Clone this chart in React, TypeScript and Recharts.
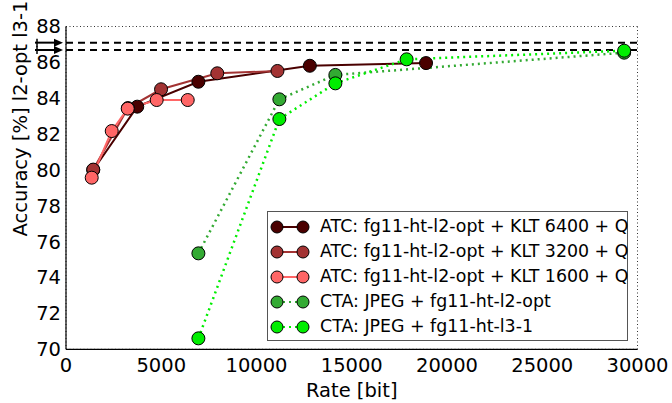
import { CartesianGrid, ComposedChart, Line, ReferenceLine, XAxis, YAxis } from "recharts"

// Rate [bit] vs accuracy [%]
const atc6400 = [
  { x: 1430, y: 80.0 },
  { x: 3740, y: 83.53 },
  { x: 6950, y: 84.92 },
  { x: 12800, y: 85.81 },
  { x: 18900, y: 85.96 },
]
const atc3200 = [
  { x: 1430, y: 80.02 },
  { x: 3250, y: 83.45 },
  { x: 4990, y: 84.5 },
  { x: 7940, y: 85.39 },
  { x: 11100, y: 85.52 },
]
const atc1600 = [
  { x: 1350, y: 79.57 },
  { x: 2400, y: 82.17 },
  { x: 3240, y: 83.42 },
  { x: 4760, y: 83.9 },
  { x: 6390, y: 83.9 },
]
const ctaL2 = [
  { x: 6950, y: 75.35 },
  { x: 11200, y: 83.94 },
  { x: 14140, y: 85.3 },
  { x: 29300, y: 86.54 },
]
const ctaL3 = [
  { x: 6950, y: 70.61 },
  { x: 11200, y: 82.84 },
  { x: 14140, y: 84.83 },
  { x: 17880, y: 86.17 },
  { x: 29300, y: 86.65 },
]

// uncompressed baselines (dashed lines)
const baselines = [87.1, 86.69]

const xTicks = [0, 5000, 10000, 15000, 20000, 25000, 30000]
const yTicks = [70, 72, 74, 76, 78, 80, 82, 84, 86, 88]

const series = [
  { name: "ATC: fg11-ht-l2-opt + KLT 6400 + Q", data: atc6400, color: "#4a0000", line: "#4a0000", dash: undefined },
  { name: "ATC: fg11-ht-l2-opt + KLT 3200 + Q", data: atc3200, color: "#a33333", line: "#a33333", dash: undefined },
  { name: "ATC: fg11-ht-l2-opt + KLT 1600 + Q", data: atc1600, color: "#ff6666", line: "#ff6666", dash: undefined },
  { name: "CTA: JPEG + fg11-ht-l2-opt", data: ctaL2, color: "#33aa33", line: "#33aa33", dash: "2 4" },
  { name: "CTA: JPEG + fg11-ht-l3-1", data: ctaL3, color: "#00ee00", line: "#00ee00", dash: "2 4" },
]

const FONT = "'DejaVu Sans', sans-serif"

function Arrow({ viewBox }: any) {
  if (!viewBox) return null
  const x0 = viewBox.x - 31
  const x1 = viewBox.x - 3
  const y = viewBox.y
  return (
    <g>
      <line x1={x0} y1={y} x2={x1 - 6} y2={y} stroke="#000" strokeWidth={2} />
      <line x1={x0 + 2} y1={y - 4} x2={x0 + 2} y2={y + 4} stroke="#000" strokeWidth={1.5} />
      <polygon points={`${x1},${y} ${x1 - 9},${y - 4} ${x1 - 9},${y + 4}`} fill="#000" />
    </g>
  )
}

function YLabel({ viewBox }: any) {
  if (!viewBox) return null
  const x = 20
  const y = viewBox.y + 92
  return (
    <text
      x={x}
      y={y}
      transform={`rotate(-90, ${x}, ${y})`}
      textAnchor="middle"
      dominantBaseline="central"
      fontSize={19.5}
      fontFamily={FONT}
      fill="#000"
    >
      Accuracy [%] l2-opt l3-1
    </text>
  )
}

function LegendBox() {
  return (
    <div
      style={{
        position: "absolute",
        left: 267,
        top: 211,
        border: "1px solid #555",
        background: "#fff",
        width: 359,
        height: 126,
        fontFamily: FONT,
        fontSize: 17.4,
        paddingTop: 2,
      }}
    >
      {series.map((s) => (
        <div key={s.name} style={{ display: "flex", alignItems: "center", height: 25.1 }}>
          <svg width={52} height={18} style={{ flex: "none" }}>
            <line x1={9} y1={9} x2={35} y2={9} stroke={s.line} strokeWidth={2} strokeDasharray={s.dash} />
            <circle cx={9} cy={9} r={6} fill={s.color} stroke="#000" strokeWidth={1} />
            <circle cx={35} cy={9} r={6} fill={s.color} stroke="#000" strokeWidth={1} />
          </svg>
          <span style={{ whiteSpace: "nowrap", lineHeight: 1 }}>{s.name}</span>
        </div>
      ))}
    </div>
  )
}

export default function App() {
  return (
    <div style={{ position: "absolute", left: 0, top: 0, width: 672, height: 403, background: "#fff" }}>
      <ComposedChart width={672} height={403} margin={{ top: 26.5, right: 34.5, bottom: 0, left: 0 }}>
        <CartesianGrid stroke="#333" strokeDasharray="1 2.5" strokeWidth={1} />
        <XAxis
          xAxisId="b"
          dataKey="x"
          type="number"
          domain={[0, 30000]}
          ticks={xTicks}
          interval={0}
          allowDataOverflow
          height={53.7}
          tickLine={false}
          tickSize={0}
          tickMargin={9}
          axisLine={{ stroke: "#000", strokeWidth: 1.2 }}
          tick={{ fill: "#000", fontSize: 19.5, fontFamily: FONT }}
          label={{ value: "Rate [bit]", position: "insideBottom", offset: 6, fill: "#000", fontSize: 19.5, fontFamily: FONT }}
        />
        <XAxis
          xAxisId="t"
          orientation="top"
          type="number"
          domain={[0, 30000]}
          height={0}
          tick={false}
          tickLine={false}
          axisLine={{ stroke: "#000", strokeWidth: 1.2 }}
        />
        <YAxis
          yAxisId="l"
          type="number"
          domain={[70, 88]}
          ticks={yTicks}
          interval={0}
          allowDataOverflow
          width={66}
          tickLine={false}
          tickSize={0}
          tickMargin={5}
          axisLine={{ stroke: "#000", strokeWidth: 1.2 }}
          tick={{ fill: "#000", fontSize: 19.5, fontFamily: FONT }}
          label={<YLabel />}
        />
        <YAxis
          yAxisId="r"
          orientation="right"
          type="number"
          domain={[70, 88]}
          width={0}
          tick={false}
          tickLine={false}
          axisLine={{ stroke: "#000", strokeWidth: 1.2 }}
        />
        {baselines.map((b) => (
          <ReferenceLine
            key={b}
            xAxisId="b"
            yAxisId="l"
            y={b}
            stroke="#000"
            strokeWidth={2}
            strokeDasharray="7 5"
            label={<Arrow />}
          />
        ))}
        {series.map((s) => (
          <Line
            key={s.name}
            xAxisId="b"
            yAxisId="l"
            data={s.data}
            dataKey="y"
            name={s.name}
            type="linear"
            stroke={s.line}
            strokeWidth={s.dash ? 2.5 : 2}
            strokeDasharray={s.dash}
            dot={{ r: 6.5, fill: s.color, stroke: "#000", strokeWidth: 1, strokeDasharray: "" }}
            activeDot={false}
            isAnimationActive={false}
          />
        ))}
      </ComposedChart>
      <LegendBox />
    </div>
  )
}
